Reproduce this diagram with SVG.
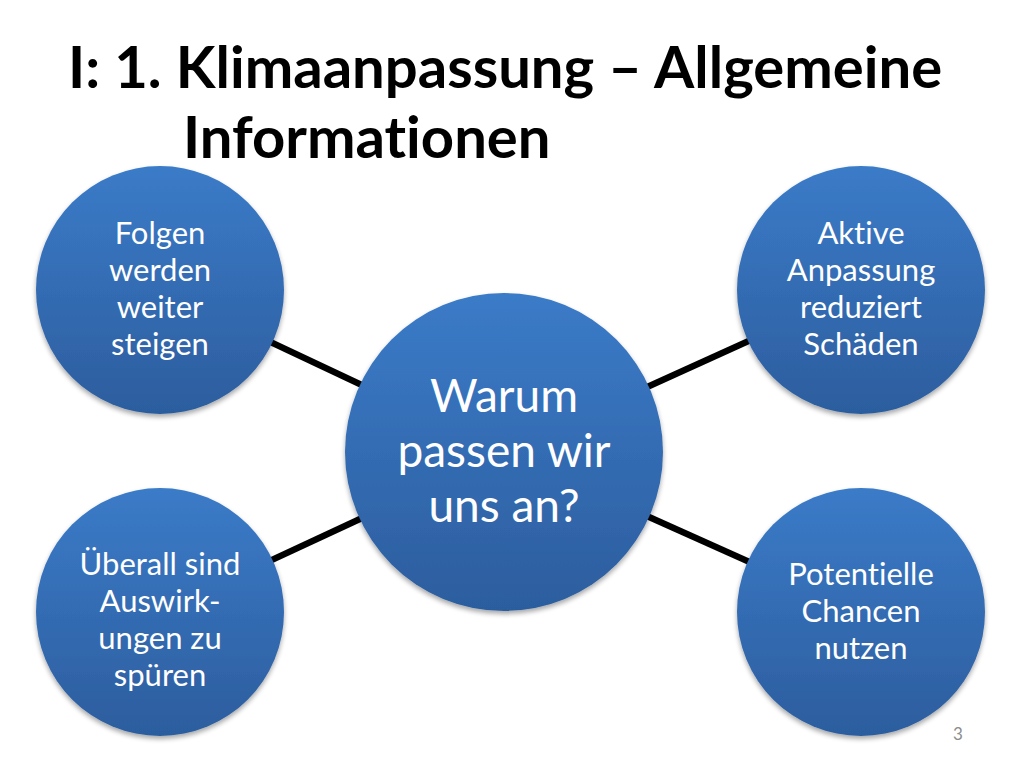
<svg xmlns="http://www.w3.org/2000/svg" width="1024" height="768" viewBox="0 0 1024 768">
<defs>
<linearGradient id="blue" x1="0" y1="0" x2="0" y2="1">
<stop offset="0" stop-color="#3b7bc8"/>
<stop offset="1" stop-color="#2c5d9e"/>
</linearGradient>
<filter id="sh" x="-20%" y="-20%" width="140%" height="140%">
<feGaussianBlur in="SourceAlpha" stdDeviation="2.5"/>
<feOffset dx="0" dy="3" result="b"/>
<feComponentTransfer><feFuncA type="linear" slope="0.35"/></feComponentTransfer>
<feMerge><feMergeNode/><feMergeNode in="SourceGraphic"/></feMerge>
</filter>
</defs>
<style>
text{font-variant-ligatures:none;font-feature-settings:"liga" 0}
.title{font-family:Lato,"Liberation Sans",sans-serif;font-weight:bold;font-size:58px;fill:#000}
.node circle{fill:url(#blue);filter:url(#sh)}
.lbl{font-family:Lato,"Liberation Sans",sans-serif;font-size:31px;fill:#fff;text-anchor:middle}
.big{font-size:46px}
.conn line{stroke:#000;stroke-width:6.5}
.pg{font-family:Lato,"Liberation Sans",sans-serif;font-size:17px;fill:#8c8c8c;text-anchor:middle}
</style>
<rect width="1024" height="768" fill="#fff"/>
<text class="title" x="68" y="88">I: 1. Klimaanpassung – Allgemeine</text>
<text class="title" x="183" y="158">Informationen</text>
<g id="connectors" class="conn">
<line x1="504" y1="452" x2="160" y2="290"/>
<line x1="504" y1="452" x2="861" y2="290"/>
<line x1="504" y1="452" x2="160" y2="612"/>
<line x1="504" y1="452" x2="861" y2="612"/>
</g>
<g id="node-tl" class="node">
<circle cx="160" cy="290" r="124"/>
<text class="lbl"><tspan x="160" y="244">Folgen</tspan><tspan x="160" y="281">werden</tspan><tspan x="160" y="318">weiter</tspan><tspan x="160" y="355">steigen</tspan></text>
</g>
<g id="node-tr" class="node">
<circle cx="861" cy="290" r="124"/>
<text class="lbl"><tspan x="861" y="244">Aktive</tspan><tspan x="861" y="281">Anpassung</tspan><tspan x="861" y="318">reduziert</tspan><tspan x="861" y="355">Schäden</tspan></text>
</g>
<g id="node-bl" class="node">
<circle cx="160" cy="612" r="124"/>
<text class="lbl"><tspan x="160" y="575">Überall sind</tspan><tspan x="160" y="612">Auswirk-</tspan><tspan x="160" y="649">ungen zu</tspan><tspan x="160" y="686">spüren</tspan></text>
</g>
<g id="node-br" class="node">
<circle cx="861" cy="612" r="124"/>
<text class="lbl"><tspan x="861" y="585">Potentielle</tspan><tspan x="861" y="622">Chancen</tspan><tspan x="861" y="659">nutzen</tspan></text>
</g>
<g id="node-center" class="node">
<circle cx="504" cy="452" r="159"/>
<text class="lbl big"><tspan x="504" y="412">Warum</tspan><tspan x="504" y="467">passen wir</tspan><tspan x="504" y="522">uns an?</tspan></text>
</g>
<text class="pg" x="958" y="740">3</text>
</svg>
